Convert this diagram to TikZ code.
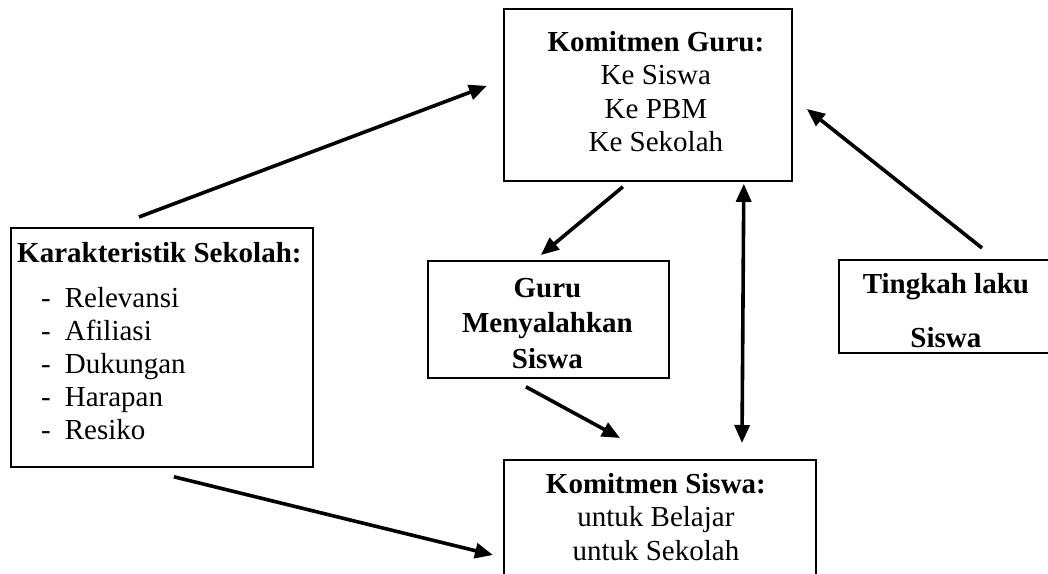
\documentclass[tikz,border=0pt]{standalone}
\usepackage{fontspec}
\setmainfont{Liberation Serif}
\usetikzlibrary{arrows.meta, positioning}
\newcommand{\itm}[1]{\hspace*{24pt}-\hspace{14pt}#1}

\begin{document}
\begin{tikzpicture}[
    x=1pt, y=-1pt,
    >={Triangle[length=18pt, width=15pt]},
    box/.style ={draw, line width=1.8pt, anchor=north west, inner sep=0pt},
    txt/.style ={inner sep=0pt, align=center,
                 font=\fontsize{29}{33.5}\selectfont},
    flow/.style ={->, line width=3.6pt},
    both/.style ={<->, line width=3.6pt},
]
\useasboundingbox (0,0) rectangle (1048,573);
\clip (0,0) rectangle (1048,573);

% boxes
\node[box, minimum width=288pt, minimum height=172pt] (kguru)   at (503,8)   {};
\node[box, minimum width=302pt, minimum height=239pt] (karak)   at (10,227)  {};
\node[box, minimum width=241pt, minimum height=117pt] (guru)    at (427,260) {};
\node[box, minimum width=312pt, minimum height=141pt] (ksiswa)  at (503,459) {};
\node[box, minimum width=214pt, minimum height=93pt]  (tingkah) at (838,259) {};

% texts
\node[txt, below=23pt of kguru.north, xshift=8pt] (kgurutxt)
    {\textbf{Komitmen Guru:}\\Ke Siswa\\Ke PBM\\Ke Sekolah};
\node[txt, align=left, anchor=north west, font=\fontsize{29}{33}\selectfont] (karaktxt)
    at ([xshift=7pt, yshift=-15pt]karak.north west)
    {\textbf{Karakteristik Sekolah:}\\[12pt]
     \itm{Relevansi}\\\itm{Afiliasi}\\\itm{Dukungan}\\\itm{Harapan}\\\itm{Resiko}};
\node[txt, below=18pt of guru.north, xshift=-1pt, font=\fontsize{29}{35.5}\selectfont] (gurutxt)
    {\textbf{Guru}\\\textbf{Menyalahkan}\\\textbf{Siswa}};
\node[txt, below=14pt of ksiswa.north, xshift=-4pt] (ksiswatxt)
    {\textbf{Komitmen Siswa:}\\untuk Belajar\\untuk Sekolah};
\node[txt, below=14pt of tingkah.north, font=\fontsize{29}{54}\selectfont] (tingkahtxt)
    {\textbf{Tingkah laku}\\\textbf{Siswa}};

% arrows
\draw[flow] ([xshift=-23pt, yshift=10pt]karak.north) -- ([xshift=-16pt, yshift=9pt]kguru.west);
\draw[flow] ([xshift=12pt, yshift=-9pt]karak.south) -- ([xshift=-10pt, yshift=-96pt]ksiswa.north west);
\draw[flow] ([xshift=-25pt, yshift=-5pt]kguru.south) -- ([xshift=-7.5pt, yshift=5pt]guru.north);
\draw[flow] ([xshift=-22.5pt, yshift=-8pt]guru.south) -- ([xshift=117pt, yshift=21pt]ksiswa.north west);
\draw[both] ([xshift=-49pt, yshift=-2pt]kguru.south east) -- ([xshift=239pt, yshift=16pt]ksiswa.north west);
\draw[flow] ([xshift=144pt, yshift=11pt]tingkah.north west) -- ([xshift=14pt, yshift=-14pt]kguru.east);
\end{tikzpicture}
\end{document}
